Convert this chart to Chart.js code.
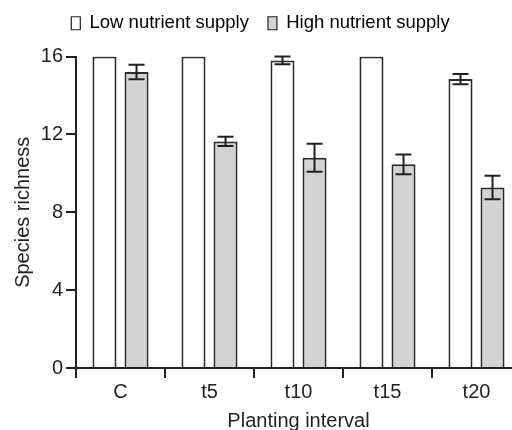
<!DOCTYPE html>
<html>
<head>
<meta charset="utf-8">
<script src="https://cdn.jsdelivr.net/npm/chart.js@4"></script>
<style>
html,body{margin:0;padding:0;background:#fff;overflow:hidden;}
#wrap{width:530px;height:430px;position:relative;}
</style>
</head>
<body>
<div id="wrap"><canvas id="c" width="530" height="430" style="width:530px;height:430px"></canvas></div>
<script>
const categories = ['C', 't5', 't10', 't15', 't20'];
const lowValues = [16, 16, 15.8, 16, 14.84];
const lowErrors = [0, 0, 0.2, 0, 0.26];
const highValues = [15.2, 11.64, 10.8, 10.46, 9.27];
const highErrors = [0.37, 0.24, 0.72, 0.51, 0.6];
const yTicks = [0, 4, 8, 12, 16];
const seriesNames = ['Low nutrient supply', 'High nutrient supply'];

const INK = '#231f20';
const FONT = 'Liberation Sans, Arial, sans-serif';

const errorBars = {
  id: 'errorBars',
  afterDatasetsDraw(chart) {
    const ctx = chart.ctx;
    const y = chart.scales.y;
    const errs = [lowErrors, highErrors];
    chart.data.datasets.forEach((ds, di) => {
      const meta = chart.getDatasetMeta(di);
      meta.data.forEach((bar, i) => {
        const e = errs[di][i];
        if (!e) return;
        const v = ds.data[i];
        const yt = y.getPixelForValue(v + e);
        const yb = y.getPixelForValue(v - e);
        const x = bar.x;
        ctx.save();
        ctx.strokeStyle = INK;
        ctx.lineWidth = 2;
        ctx.beginPath();
        ctx.moveTo(x, yt); ctx.lineTo(x, yb);
        ctx.moveTo(x - 8, yt); ctx.lineTo(x + 8, yt);
        ctx.moveTo(x - 8, yb); ctx.lineTo(x + 8, yb);
        ctx.stroke();
        ctx.restore();
      });
    });
  }
};

const legendShift = {
  id: 'legendShift',
  afterLayout(chart) {
    const l = chart.legend;
    l.top -= 14;
    l.bottom -= 14;
  }
};

new Chart(document.getElementById('c'), {
  type: 'bar',
  data: {
    labels: categories,
    datasets: [
      { label: seriesNames[0], data: lowValues, backgroundColor: '#ffffff', borderColor: '#2b2b2b', borderWidth: 2 },
      { label: seriesNames[1], data: highValues, backgroundColor: '#d1d3d4', borderColor: '#2b2b2b', borderWidth: 2 }
    ]
  },
  options: {
    responsive: false,
    animation: false,
    layout: { padding: { top: 9, left: 0, right: 9, bottom: 0 } },
    datasets: { bar: { categoryPercentage: 0.72, barPercentage: 0.75 } },
    plugins: {
      tooltip: { enabled: false },
      legend: {
        position: 'top',
        labels: {
          boxWidth: 9, boxHeight: 13, padding: 19, color: INK,
          font: { family: FONT, size: 18.5 },
          generateLabels(chart) {
            return chart.data.datasets.map((ds, i) => ({
              text: ds.label, fillStyle: ds.backgroundColor, strokeStyle: INK,
              lineWidth: 1.2, datasetIndex: i, hidden: false
            }));
          }
        }
      }
    },
    scales: {
      x: {
        afterFit(s) { s.height = 62; },
        grid: { offset: true, drawOnChartArea: false, drawTicks: true, tickLength: 10, color: INK, lineWidth: 2 },
        border: { color: INK, width: 2 },
        ticks: { color: INK, font: { family: FONT, size: 20 }, padding: 2 },
        title: { display: true, text: 'Planting interval', color: INK, font: { family: FONT, size: 20 }, padding: { top: 0, bottom: -3 } }
      },
      y: {
        min: 0, max: 16,
        afterFit(s) { s.width = 76; },
        afterBuildTicks(s) { s.ticks = yTicks.map(v => ({ value: v })); },
        grid: { drawOnChartArea: false, drawTicks: true, tickLength: 10, color: INK, lineWidth: 2 },
        border: { color: INK, width: 2 },
        ticks: { color: INK, font: { family: FONT, size: 20 }, padding: 3 },
        title: { display: true, text: 'Species richness', color: INK, font: { family: FONT, size: 20 }, padding: { top: 11, bottom: 0 } }
      }
    }
  },
  plugins: [errorBars, legendShift]
});
</script>
</body>
</html>
